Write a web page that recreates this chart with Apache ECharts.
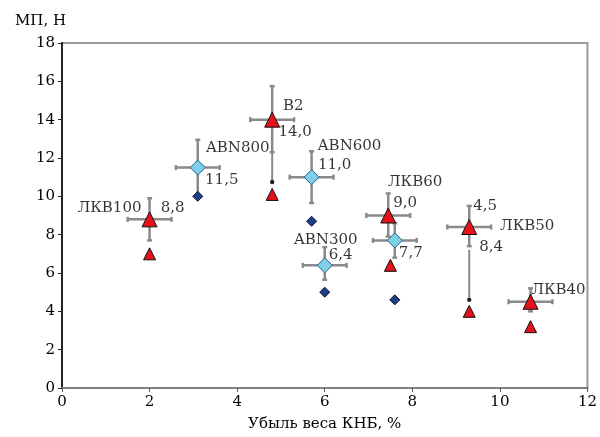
<!DOCTYPE html>
<html>
<head>
<meta charset="utf-8">
<script src="https://cdn.jsdelivr.net/npm/echarts@6/dist/echarts.min.js"></script>
<style>
  html, body { margin: 0; padding: 0; background: #fff; }
  .chart { width: 600px; height: 437px; }
</style>
</head>
<body>
<div class="chart"></div>
<script>
// данные: убыль веса КНБ (%) и МП (Н)
var xTicks = [0, 2, 4, 6, 8, 10, 12];
var yTicks = [0, 2, 4, 6, 8, 10, 12, 14, 16, 18];

// ЛКВ100, B2, ЛКВ60, ЛКВ50, ЛКВ40 — красные треугольники
var redMain = [[2.0, 8.8], [4.8, 14.0], [7.45, 9.0], [9.3, 8.4], [10.7, 4.5]];
var redXErr = [0.5, 0.5, 0.5, 0.5, 0.5];
var redYLow = [7.7, 12.3, 7.9, 7.4, 4.0];
var redYHigh = [9.9, 15.75, 10.15, 9.5, 5.2];
var redSecond = [[2.0, 7.0], [4.8, 10.1], [7.5, 6.4], [9.3, 4.0], [10.7, 3.2]];

// ABN800, ABN600, ABN300, (7,7) — голубые ромбы
var blueMain = [[3.1, 11.5], [5.7, 11.0], [6.0, 6.4], [7.6, 7.7]];
var blueXErr = [0.5, 0.5, 0.5, 0.5];
var blueYLow = [10.05, 9.65, 5.65, 6.8];
var blueYHigh = [12.95, 12.35, 7.35, 8.6];
var darkSecond = [[3.1, 10.0], [5.7, 8.7], [6.0, 5.0], [7.6, 4.6]];

// стрелки вниз: x, от, до
var arrows = [[4.8, 12.3, 10.75], [9.3, 7.2, 4.6]];

// подписи
var redNames = ['ЛКВ100', 'B2', 'ЛКВ60', 'ЛКВ50', 'ЛКВ40'];
var redValues = ['8,8', '14,0', '9,0', '8,4', ''];
var blueNames = ['ABN800', 'ABN600', 'ABN300', ''];
var blueValues = ['11,5', '11,0', '6,4', '7,7'];
var extraTexts = [['red', 3, '4,5']];

(function() {
  var myChart = echarts.init(document.querySelector(".chart"));
  var font = 'DejaVu Serif';

  // смещения подписей (px)
  var redNameOff = [[-40, -11], [21, -14], [27, -33], [58, -1], [28, -12]];
  var redValOff = [[23, -11], [23, 12], [17, -12], [22, 20], [0, 0]];
  var blueNameOff = [[40, -19], [38, -31], [1, -25], [0, 0]];
  var blueValOff = [[24, 13], [23, -12], [16, -10], [16, 13]];
  var extraOff = [[16, -21]];

  function errData(pts, xe, lo, hi) {
    return pts.map(function(p, i) {
      return [p[0], p[1], p[0] - xe[i], p[0] + xe[i], lo[i], hi[i]];
    });
  }
  var errAll = errData(redMain, redXErr, redYLow, redYHigh)
    .concat(errData(blueMain, blueXErr, blueYLow, blueYHigh));

  var barStyle = { stroke: '#8a8a8a', lineWidth: 2.5 };
  function renderErr(params, api) {
    var c = api.coord([api.value(0), api.value(1)]);
    var l = api.coord([api.value(2), api.value(1)]);
    var r = api.coord([api.value(3), api.value(1)]);
    var b = api.coord([api.value(0), api.value(4)]);
    var t = api.coord([api.value(0), api.value(5)]);
    var cap = 2.5;
    return {
      type: 'group',
      children: [
        { type: 'line', shape: { x1: l[0], y1: c[1], x2: r[0], y2: c[1] }, style: barStyle },
        { type: 'line', shape: { x1: c[0], y1: b[1], x2: c[0], y2: t[1] }, style: barStyle },
        { type: 'line', shape: { x1: l[0], y1: c[1] - cap, x2: l[0], y2: c[1] + cap }, style: barStyle },
        { type: 'line', shape: { x1: r[0], y1: c[1] - cap, x2: r[0], y2: c[1] + cap }, style: barStyle },
        { type: 'line', shape: { x1: c[0] - cap, y1: b[1], x2: c[0] + cap, y2: b[1] }, style: barStyle },
        { type: 'line', shape: { x1: c[0] - cap, y1: t[1], x2: c[0] + cap, y2: t[1] }, style: barStyle }
      ]
    };
  }
  function renderArrow(params, api) {
    var a = api.coord([api.value(0), api.value(1)]);
    var b = api.coord([api.value(0), api.value(2)]);
    return {
      type: 'group',
      children: [
        { type: 'line', shape: { x1: a[0], y1: a[1], x2: b[0], y2: b[1] }, style: { stroke: '#8a8a8a', lineWidth: 2 } },
        { type: 'circle', shape: { cx: b[0], cy: b[1], r: 2.2 }, style: { fill: '#222' } }
      ]
    };
  }

  // подписи строим из массивов
  var labelItems = [];
  function addLabels(pts, texts, offs) {
    pts.forEach(function(p, i) {
      if (!texts[i]) return;
      labelItems.push({
        value: p,
        label: { show: true, position: 'inside', formatter: texts[i], offset: offs[i] }
      });
    });
  }
  addLabels(redMain, redNames, redNameOff);
  addLabels(redMain, redValues, redValOff);
  addLabels(blueMain, blueNames, blueNameOff);
  addLabels(blueMain, blueValues, blueValOff);
  extraTexts.forEach(function(e, i) {
    var p = (e[0] === 'red' ? redMain : blueMain)[e[1]];
    labelItems.push({ value: p, label: { show: true, position: 'inside', formatter: e[2], offset: extraOff[i] } });
  });

  var option = {
    animation: false,
    textStyle: { fontFamily: font },
    grid: {
      left: 62, right: 10, top: 43, bottom: 45,
      show: true,
      borderColor: '#9a9a9a',
      borderWidth: 2
    },
    xAxis: {
      type: 'value',
      min: xTicks[0], max: xTicks[xTicks.length - 1], interval: 2,
      name: 'Убыль веса КНБ, %',
      nameLocation: 'middle', nameGap: 29,
      nameTextStyle: { fontFamily: font, fontSize: 15, color: '#000' },
      axisLine: { lineStyle: { color: '#808080', width: 2 } },
      axisTick: { show: true, inside: false, length: 4, lineStyle: { color: '#555' } },
      axisLabel: { color: '#000', fontSize: 15, fontFamily: font, margin: 7 },
      splitLine: { show: false }
    },
    yAxis: {
      type: 'value',
      min: yTicks[0], max: yTicks[yTicks.length - 1], interval: 2,
      name: 'МП, Н',
      nameLocation: 'end', nameGap: 14,
      nameTextStyle: { fontFamily: font, fontSize: 15, color: '#000', align: 'right', padding: [0, -4, 0, 0] },
      axisLine: { show: true, lineStyle: { color: '#222', width: 2 } },
      axisTick: { show: true, inside: false, length: 4, lineStyle: { color: '#222' } },
      axisLabel: { color: '#000', fontSize: 15, fontFamily: font, margin: 7 },
      splitLine: { show: false }
    },
    series: [
      { type: 'custom', renderItem: renderArrow, data: arrows, z: 1 },
      { type: 'custom', renderItem: renderErr, data: errAll, z: 2 },
      {
        type: 'scatter', data: redSecond, symbol: 'triangle', symbolSize: 12, z: 3,
        itemStyle: { color: '#e3121b', borderColor: '#111', borderWidth: 1, opacity: 1 }
      },
      {
        type: 'scatter', data: darkSecond, symbol: 'diamond', symbolSize: 10, z: 3,
        itemStyle: { color: '#1d3f86', borderColor: '#0a1430', borderWidth: 1, opacity: 1 }
      },
      {
        type: 'scatter', data: redMain, symbol: 'triangle', symbolSize: 15, z: 4,
        itemStyle: { color: '#e3121b', borderColor: '#111', borderWidth: 1, opacity: 1 }
      },
      {
        type: 'scatter', data: blueMain, symbol: 'diamond', symbolSize: 15, z: 4,
        itemStyle: { color: '#7fcfe8', borderColor: '#2a5f88', borderWidth: 1, opacity: 1 }
      },
      {
        type: 'scatter', data: labelItems, symbolSize: 1, z: 5, silent: true,
        itemStyle: { color: 'rgba(0,0,0,0)' },
        label: { color: '#000', fontSize: 15, fontFamily: font }
      }
    ]
  };
  myChart.setOption(option);
  window.addEventListener("resize", function() {
    myChart.resize();
  });
})();
</script>
</body>
</html>
